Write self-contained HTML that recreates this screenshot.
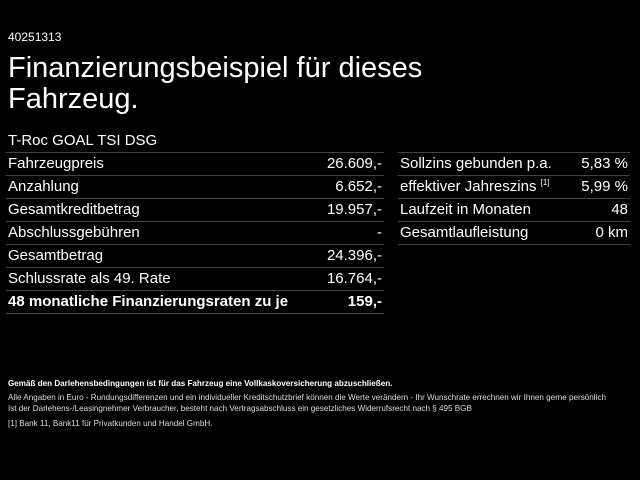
<!DOCTYPE html>
<html><head><meta charset="utf-8"><style>
*{margin:0;padding:0;box-sizing:border-box}
body{width:640px;height:480px;background:#000;color:#fff;font-family:"Liberation Sans",Arial,sans-serif;position:relative;overflow:hidden}
.a{position:absolute;white-space:nowrap}
.row{position:absolute;height:23px;border-top:1px solid #444;font-size:15px;line-height:22px}
.row span{position:absolute}
.r{right:2px}
.l{left:2px}
.foot{position:absolute;left:8px;font-size:8.1px;color:#ddd;white-space:nowrap}
sup{font-size:8px;line-height:0;vertical-align:6px}
</style></head><body>
<div class="a" style="left:8px;top:30px;font-size:12px">40251313</div>
<div class="a" style="left:8px;top:53px;font-size:29px;line-height:31px">Finanzierungsbeispiel für dieses<br>Fahrzeug.</div>
<div class="a" style="left:8px;top:132px;font-size:15px">T-Roc GOAL TSI DSG</div>

<div class="row" style="left:6px;width:378px;top:152px"><span class="l">Fahrzeugpreis</span><span class="r">26.609,-</span></div>
<div class="row" style="left:6px;width:378px;top:175px"><span class="l">Anzahlung</span><span class="r">6.652,-</span></div>
<div class="row" style="left:6px;width:378px;top:198px"><span class="l">Gesamtkreditbetrag</span><span class="r">19.957,-</span></div>
<div class="row" style="left:6px;width:378px;top:221px"><span class="l">Abschlussgebühren</span><span class="r">-</span></div>
<div class="row" style="left:6px;width:378px;top:244px"><span class="l">Gesamtbetrag</span><span class="r">24.396,-</span></div>
<div class="row" style="left:6px;width:378px;top:267px"><span class="l">Schlussrate als 49. Rate</span><span class="r">16.764,-</span></div>
<div class="row" style="left:6px;width:378px;top:290px;font-weight:bold"><span class="l">48 monatliche Finanzierungsraten zu je</span><span class="r">159,-</span></div>
<div class="a" style="left:6px;width:378px;top:313px;border-top:1px solid #444"></div>

<div class="row" style="left:398px;width:232px;top:152px"><span class="l">Sollzins gebunden p.a.</span><span class="r">5,83 %</span></div>
<div class="row" style="left:398px;width:232px;top:175px"><span class="l">effektiver Jahreszins <sup>[1]</sup></span><span class="r">5,99 %</span></div>
<div class="row" style="left:398px;width:232px;top:198px"><span class="l">Laufzeit in Monaten</span><span class="r">48</span></div>
<div class="row" style="left:398px;width:232px;top:221px"><span class="l">Gesamtlaufleistung</span><span class="r">0 km</span></div>
<div class="a" style="left:398px;width:232px;top:244px;border-top:1px solid #444"></div>

<div class="foot" style="top:379px;font-weight:bold;color:#fff">Gemäß den Darlehensbedingungen ist für das Fahrzeug eine Vollkaskoversicherung abzuschließen.</div>
<div class="foot" style="top:393px">Alle Angaben in Euro - Rundungsdifferenzen und ein individueller Kreditschutzbrief können die Werte verändern - Ihr Wunschrate errechnen wir Ihnen gerne persönlich</div>
<div class="foot" style="top:404px">Ist der Darlehens-/Leasingnehmer Verbraucher, besteht nach Vertragsabschluss ein gesetzliches Widerrufsrecht nach § 495 BGB</div>
<div class="foot" style="top:419px">[1] Bank 11, Bank11 für Privatkunden und Handel GmbH.</div>
</body></html>
